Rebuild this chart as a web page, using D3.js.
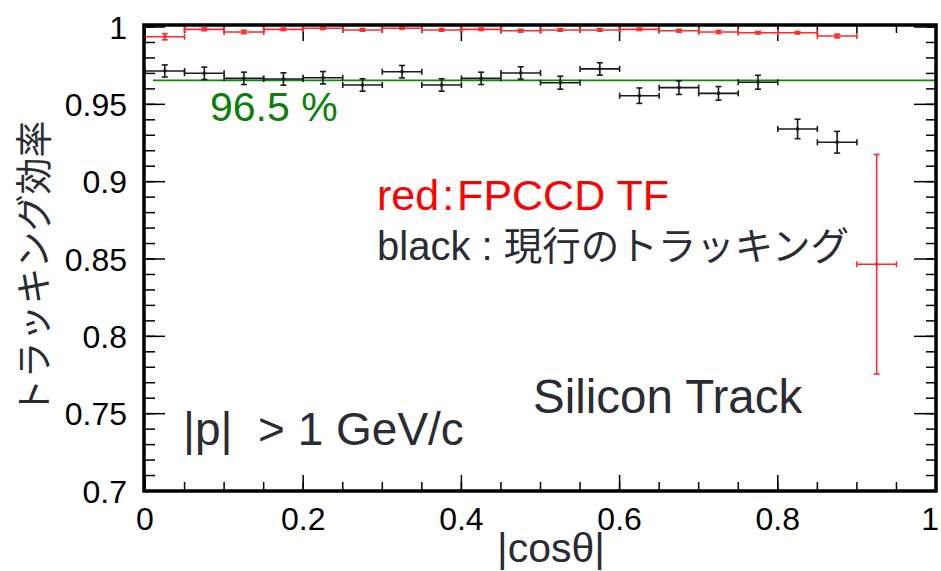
<!DOCTYPE html>
<html>
<head>
<meta charset="utf-8">
<script src="https://cdn.jsdelivr.net/npm/d3@7"></script>
<style>
  body { margin: 0; background: #fff; }
  svg { display: block; }
  text { font-family: "Liberation Sans", Arial, "Noto Sans CJK JP", sans-serif; }
</style>
</head>
<body>
<svg id="chart" width="941" height="571"></svg>
<script>
// bin centres in |cos theta| (bin width 0.05)
var redX = [0.025, 0.075, 0.125, 0.175, 0.225, 0.275, 0.325, 0.375, 0.425, 0.475,
            0.525, 0.575, 0.625, 0.675, 0.725, 0.775, 0.825, 0.875, 0.925];
var redEff = [0.9937, 0.9985, 0.9968, 0.9985, 0.9992, 0.9981, 0.9992, 0.9981, 0.9985, 0.9976,
              0.9981, 0.9981, 0.9985, 0.9976, 0.9968, 0.9963, 0.9963, 0.9942, 0.8466];
var redErr = [0.0020, 0.0009, 0.0011, 0.0008, 0.0008, 0.0008, 0.0006, 0.0008, 0.0008, 0.0009,
              0.0008, 0.0008, 0.0008, 0.0009, 0.0010, 0.0008, 0.0008, 0.0012, 0.0710];

var blackX = [0.025, 0.075, 0.125, 0.175, 0.225, 0.275, 0.325, 0.375, 0.425, 0.475,
              0.525, 0.575, 0.625, 0.675, 0.725, 0.775, 0.825, 0.875];
var blackEff = [0.9716, 0.9701, 0.9668, 0.9664, 0.9672, 0.9625, 0.9711, 0.9625, 0.9668, 0.9703,
                0.9640, 0.9729, 0.9556, 0.9608, 0.9571, 0.9643, 0.9341, 0.9255];
var blackErr = [0.0039, 0.0040, 0.0040, 0.0040, 0.0040, 0.0040, 0.0040, 0.0040, 0.0040, 0.0040,
                0.0042, 0.0040, 0.0050, 0.0044, 0.0044, 0.0045, 0.0063, 0.0070];

var binHalf = 0.025;
var refLevel = 0.9655;

var xTicks = [0, 0.2, 0.4, 0.6, 0.8, 1];
var xTickLabels = ["0", "0.2", "0.4", "0.6", "0.8", "1"];
var yTicks = [0.7, 0.75, 0.8, 0.85, 0.9, 0.95, 1];
var yTickLabels = ["0.7", "0.75", "0.8", "0.85", "0.9", "0.95", "1"];

var svg = d3.select('#chart');

var x = d3.scaleLinear().domain([0, 1]).range([145, 936]);
var y = d3.scaleLinear().domain([0.7, 1.0013]).range([491, 25]);

var xMinor = d3.range(0, 1.0001, 0.05);
var yMinor = d3.range(0.7, 1.0001, 0.01);

// minor + major ticks on all four sides (pointing inwards)
function tickLines(g, values, len, side) {
    g.selectAll('line.t' + side + len)
        .data(values)
        .enter().append('line')
        .attr('stroke', '#000')
        .attr('stroke-width', 1.5)
        .attr('x1', function(d) {
            if (side === 'b' || side === 't') return x(d);
            return side === 'l' ? x(0) : x(1);
        })
        .attr('x2', function(d) {
            if (side === 'b' || side === 't') return x(d);
            return side === 'l' ? x(0) + len : x(1) - len;
        })
        .attr('y1', function(d) {
            if (side === 'l' || side === 'r') return y(d);
            return side === 'b' ? y(0.7) : y.range()[1];
        })
        .attr('y2', function(d) {
            if (side === 'l' || side === 'r') return y(d);
            return side === 'b' ? y(0.7) - len : y.range()[1] + len;
        });
}

var ticks = svg.append('g');
tickLines(ticks, xMinor, 9, 'b');
tickLines(ticks, xTicks, 16, 'b');
tickLines(ticks, xMinor, 8, 't');
tickLines(ticks, xTicks, 16, 't');
tickLines(ticks, yMinor, 10, 'l');
tickLines(ticks, yTicks, 20, 'l');
tickLines(ticks, yMinor, 10, 'r');
tickLines(ticks, yTicks, 22, 'r');

// reference line
svg.append('line')
    .attr('x1', x(0.01)).attr('x2', x(1))
    .attr('y1', y(refLevel)).attr('y2', y(refLevel))
    .attr('stroke', '#0a8a0a')
    .attr('stroke-width', 1.8);

function drawSeries(xs, vals, errs, color, width) {
    var g = svg.append('g');
    var pts = xs.map(function(d, i) { return {x: d, v: vals[i], e: errs[i]}; });
    var cap = 3;
    var sel = g.selectAll('g.pt').data(pts).enter().append('g')
        .attr('stroke', color)
        .attr('stroke-width', width);
    sel.append('line')
        .attr('x1', function(d) { return x(d.x - binHalf); })
        .attr('x2', function(d) { return x(d.x + binHalf); })
        .attr('y1', function(d) { return y(d.v); })
        .attr('y2', function(d) { return y(d.v); });
    sel.append('line')
        .attr('x1', function(d) { return x(d.x - binHalf); })
        .attr('x2', function(d) { return x(d.x - binHalf); })
        .attr('y1', function(d) { return y(d.v) - cap; })
        .attr('y2', function(d) { return y(d.v) + cap; });
    sel.append('line')
        .attr('x1', function(d) { return x(d.x + binHalf); })
        .attr('x2', function(d) { return x(d.x + binHalf); })
        .attr('y1', function(d) { return y(d.v) - cap; })
        .attr('y2', function(d) { return y(d.v) + cap; });
    sel.append('line')
        .attr('x1', function(d) { return x(d.x); })
        .attr('x2', function(d) { return x(d.x); })
        .attr('y1', function(d) { return y(d.v + d.e); })
        .attr('y2', function(d) { return y(d.v - d.e); });
    sel.append('line')
        .attr('x1', function(d) { return x(d.x) - cap; })
        .attr('x2', function(d) { return x(d.x) + cap; })
        .attr('y1', function(d) { return y(d.v + d.e); })
        .attr('y2', function(d) { return y(d.v + d.e); });
    sel.append('line')
        .attr('x1', function(d) { return x(d.x) - cap; })
        .attr('x2', function(d) { return x(d.x) + cap; })
        .attr('y1', function(d) { return y(d.v - d.e); })
        .attr('y2', function(d) { return y(d.v - d.e); });
    sel.append('rect')
        .attr('x', function(d) { return x(d.x) - 1.5; })
        .attr('y', function(d) { return y(d.v) - 1.5; })
        .attr('width', 3).attr('height', 3)
        .attr('fill', color).attr('stroke', 'none');
}

drawSeries(blackX, blackEff, blackErr, '#1a1a1a', 1.6);
drawSeries(redX, redEff, redErr, '#ff2a2a', 1.6);

// frame
svg.append('rect')
    .attr('x', x(0) - 1).attr('y', y.range()[1])
    .attr('width', x(1) - x(0) + 1)
    .attr('height', y(0.7) - y.range()[1])
    .attr('fill', 'none')
    .attr('stroke', '#000')
    .attr('stroke-width', 3.5);

// tick labels (last one kept inside the window)
svg.selectAll('text.xl').data(xTicks).enter().append('text')
    .attr('x', function(d, i) { return i === xTicks.length - 1 ? 939 : x(d); })
    .attr('y', 530)
    .attr('text-anchor', function(d, i) { return i === xTicks.length - 1 ? 'end' : 'middle'; })
    .style('font-size', '32px')
    .text(function(d, i) { return xTickLabels[i]; });

svg.selectAll('text.yl').data(yTicks).enter().append('text')
    .attr('x', 127)
    .attr('y', function(d) { return y(d); })
    .attr('dy', '0.36em')
    .attr('text-anchor', 'end')
    .style('font-size', '32px')
    .text(function(d, i) { return yTickLabels[i]; });

// axis titles
svg.append('text')
    .attr('x', 497).attr('y', 562)
    .style('font-size', '41px')
    .attr('fill', '#2b2b33')
    .text('|cosθ|');

svg.append('text')
    .attr('transform', 'translate(48,268) rotate(-90)')
    .attr('text-anchor', 'middle')
    .style('font-size', '37px')
    .style('font-family', '"Noto Sans CJK JP", sans-serif')
    .attr('fill', '#2b2b33')
    .text('トラッキング効率');

// annotations
svg.append('text')
    .attr('x', 210).attr('y', 121)
    .style('font-size', '41px')
    .attr('fill', '#0a800a')
    .text('96.5 %');

var rd = svg.append('text')
    .attr('x', 377).attr('y', 210)
    .style('font-size', '43px')
    .attr('fill', '#ff0000');
rd.append('tspan').text('red');
rd.append('tspan').attr('dx', 3).text(':');
rd.append('tspan').attr('dx', 3).text('FPCCD TF');

var blk = svg.append('text')
    .attr('x', 377).attr('y', 260)
    .style('font-size', '40px')
    .attr('fill', '#2b2b33');
blk.append('tspan').text('black : ');
blk.append('tspan')
    .style('font-size', '38.5px')
    .style('font-family', '"Noto Sans CJK JP", sans-serif')
    .text('現行のトラッキング');

svg.append('text')
    .attr('x', 533).attr('y', 413)
    .style('font-size', '47.5px')
    .attr('fill', '#2b2b33')
    .text('Silicon Track');

svg.append('text')
    .attr('x', 183).attr('y', 445)
    .style('font-size', '46px')
    .attr('fill', '#2b2b33')
    .style('white-space', 'pre')
    .text('|p|  > 1 GeV/c');
</script>
</body>
</html>
